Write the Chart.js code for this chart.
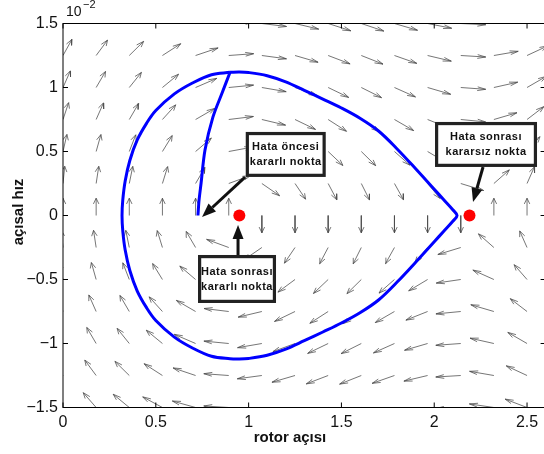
<!DOCTYPE html>
<html>
<head>
<meta charset="utf-8">
<script src="https://cdn.jsdelivr.net/npm/chart.js@4.4.0/dist/chart.umd.min.js"></script>
<style>
  html, body { margin: 0; padding: 0; background: #fff; overflow: hidden; }
  #wrap { width: 544px; height: 454px; overflow: hidden; }
</style>
</head>
<body>
<div id="wrap"><canvas id="phaseChart" width="560" height="454"></canvas></div>
<script>
// === DATA ===
const xTicks = [0, 0.5, 1, 1.5, 2, 2.5];
const yTicks = [-1.5, -1, -0.5, 0, 0.5, 1, 1.5];

// quiver grid: rotor angle (rad) and speed (x 1e-2)
const gridX = [0, 0.1786, 0.3571, 0.5357, 0.7143, 0.8929, 1.0714, 1.25, 1.4286, 1.6071, 1.7857, 1.9643, 2.1429, 2.3214, 2.5];
const gridY = [1.5, 1.25, 1, 0.75, 0.5, 0.25, 0, -0.25, -0.5, -0.75, -1, -1.25, -1.5];
// arrow direction (degrees, data space) for each grid row / column
const arrowAngles = [
  [65, 59, 50, 38, 22, 5, -10, -19, -25, -26, -23, -16, -4, 12, 29],
  [69, 63, 55, 43, 26, 6, -11, -23, -29, -30, -27, -19, -5, 14, 34],
  [73, 68, 61, 50, 32, 8, -14, -28, -35, -36, -33, -23, -6, 18, 40],
  [77, 73, 68, 58, 40, 10, -19, -35, -43, -44, -40, -30, -8, 23, 48],
  [81, 79, 75, 67, 51, 15, -27, -47, -54, -55, -52, -41, -12, 33, 59],
  [86, 84, 82, 78, 68, 28, -45, -65, -70, -71, -69, -60, -24, 52, 73],
  [90, 90, 90, 90, 90, 90, -90, -90, -90, -90, -90, -90, -90, 90, 90],
  [94, 96, 98, 102, 112, 152, -135, -115, -110, -109, -111, -120, -156, 128, 107],
  [99, 101, 105, 113, 129, 165, -153, -133, -126, -125, -128, -139, -168, 147, 121],
  [103, 107, 112, 122, 140, 170, -161, -145, -137, -136, -140, -150, -172, 157, 132],
  [107, 112, 119, 130, 148, 172, -166, -152, -145, -144, -147, -157, -174, 162, 140],
  [111, 117, 125, 137, 154, 174, -169, -157, -151, -150, -153, -161, -175, 166, 146],
  [115, 121, 130, 142, 158, 175, -170, -161, -155, -154, -157, -164, -176, 168, 151],
];

// closed trajectory (stability boundary), clockwise from the top
const sepDelta = [0.90, 0.95, 1.0, 1.1, 1.2, 1.3, 1.4, 1.5, 1.6, 1.7, 1.8, 1.9, 2.0, 2.05, 2.1, 2.123,
  2.1, 2.05, 2.0, 1.9, 1.8, 1.7, 1.6, 1.5, 1.4, 1.3, 1.2, 1.1, 1.0, 0.95, 0.9, 0.8, 0.7, 0.6, 0.5, 0.45,
  0.4, 0.36, 0.335, 0.322, 0.318, 0.322, 0.335, 0.36, 0.4, 0.45, 0.5, 0.6, 0.7, 0.8, 0.90];
const sepOmega = [1.119, 1.121, 1.117, 1.092, 1.044, 0.978, 0.910, 0.840, 0.760, 0.660, 0.520, 0.365, 0.205, 0.125, 0.045, 0,
  -0.045, -0.125, -0.205, -0.365, -0.520, -0.660, -0.760, -0.840, -0.910, -0.978, -1.044, -1.092, -1.117, -1.121, -1.119, -1.100, -1.037, -0.950, -0.820, -0.720,
  -0.590, -0.430, -0.270, -0.120, 0, 0.120, 0.270, 0.430, 0.590, 0.720, 0.820, 0.950, 1.037, 1.100, 1.119];

// fault-on trajectory
const faultDelta = [0.727, 0.733, 0.744, 0.765, 0.808, 0.857, 0.900];
const faultOmega = [0.00, 0.12, 0.254, 0.512, 0.77, 0.957, 1.119];

// post-fault equilibria
const eqDelta = [0.95, 2.19];
const eqOmega = [0, 0];

// callout boxes
const notes = [
  { lines: ["Hata öncesi", "kararlı nokta"], at: [1.20, 0.477], w: 80, h: 45, from: [0.981, 0.30], to: [0.749, -0.012] },
  { lines: ["Hata sonrası", "kararlı nokta"], at: [0.9375, -0.496], w: 78, h: 48, from: [0.943, -0.309], to: [0.943, -0.074] },
  { lines: ["Hata sonrası", "kararsız nokta"], at: [2.279, 0.555], w: 102, h: 45, from: [2.263, 0.379], to: [2.209, 0.105] },
];

// === QUIVER SEGMENTS (MATLAB style heads) ===
const ARROW_LEN = 0.135;
const HEAD = 0.33;
const quiverPts = [];
gridY.forEach((y, i) => {
  gridX.forEach((x, j) => {
    const a = arrowAngles[i][j] * Math.PI / 180;
    const u = ARROW_LEN * Math.cos(a);
    const v = ARROW_LEN * Math.sin(a);
    const tx = x + u, ty = y + v;
    quiverPts.push(
      { x: x, y: y }, { x: tx, y: ty }, { x: tx, y: null },
      { x: tx - HEAD * (u + HEAD * v), y: ty - HEAD * (v - HEAD * u) },
      { x: tx, y: ty },
      { x: tx - HEAD * (u - HEAD * v), y: ty - HEAD * (v + HEAD * u) },
      { x: tx, y: null }
    );
  });
});

const toPts = (xs, ys) => xs.map((v, i) => ({ x: v, y: ys[i] }));
const fmt = (v) => (v < 0 ? "\u2212" + Math.abs(v) : String(v));
const FONT = "'Liberation Sans', Arial, sans-serif";

// === FRAME, TICKS, TITLES, CALLOUTS ===
const decorPlugin = {
  id: "decor",
  afterDatasetsDraw(chart) {
    const { ctx, chartArea: a, scales: { x, y } } = chart;
    ctx.save();

    // callouts
    notes.forEach((n) => {
      const fx = x.getPixelForValue(n.from[0]), fy = y.getPixelForValue(n.from[1]);
      const tx = x.getPixelForValue(n.to[0]), ty = y.getPixelForValue(n.to[1]);
      const ang = Math.atan2(ty - fy, tx - fx);
      const hl = 14, hw = 5.5;
      const bx = tx - hl * Math.cos(ang), by = ty - hl * Math.sin(ang);
      ctx.strokeStyle = "#111";
      ctx.lineWidth = 3;
      ctx.beginPath();
      ctx.moveTo(fx, fy);
      ctx.lineTo(bx, by);
      ctx.stroke();
      ctx.fillStyle = "#111";
      ctx.beginPath();
      ctx.moveTo(tx, ty);
      ctx.lineTo(bx + hw * Math.sin(ang), by - hw * Math.cos(ang));
      ctx.lineTo(bx - hw * Math.sin(ang), by + hw * Math.cos(ang));
      ctx.closePath();
      ctx.fill();

      const cx = x.getPixelForValue(n.at[0]), cy = y.getPixelForValue(n.at[1]);
      ctx.fillStyle = "#fff";
      ctx.fillRect(cx - n.w / 2, cy - n.h / 2, n.w, n.h);
      ctx.lineWidth = 3.2;
      ctx.strokeStyle = "#222";
      ctx.strokeRect(cx - n.w / 2 + 1.6, cy - n.h / 2 + 1.6, n.w - 3.2, n.h - 3.2);
      ctx.fillStyle = "#111";
      ctx.font = "bold 11px " + FONT;
      ctx.letterSpacing = "0.5px";
      ctx.textAlign = "center";
      ctx.textBaseline = "middle";
      ctx.fillText(n.lines[0], cx, cy - 7.5);
      ctx.fillText(n.lines[1], cx, cy + 7.5);
      ctx.letterSpacing = "0px";
    });

    // axes box and inward ticks
    ctx.strokeStyle = "#000";
    ctx.lineWidth = 1;
    ctx.strokeRect(a.left, a.top, a.right - a.left, a.bottom - a.top);
    ctx.beginPath();
    xTicks.forEach((v) => {
      const px = x.getPixelForValue(v);
      ctx.moveTo(px, a.bottom); ctx.lineTo(px, a.bottom - 5);
      ctx.moveTo(px, a.top); ctx.lineTo(px, a.top + 5);
    });
    yTicks.forEach((v) => {
      const py = y.getPixelForValue(v);
      ctx.moveTo(a.left, py); ctx.lineTo(a.left + 5, py);
      ctx.moveTo(a.right, py); ctx.lineTo(a.right - 5, py);
    });
    ctx.stroke();

    // axis titles and exponent
    ctx.fillStyle = "#111";
    ctx.font = "bold 15px " + FONT;
    ctx.textAlign = "center";
    ctx.textBaseline = "middle";
    ctx.fillText("rotor açısı", 290, 438);
    ctx.translate(19, 212);
    ctx.rotate(-Math.PI / 2);
    ctx.fillText("açısal hız", 0, 0);
    ctx.setTransform(1, 0, 0, 1, 0, 0);
    ctx.textAlign = "left";
    ctx.font = "14px " + FONT;
    ctx.fillText("10", 66, 12.5);
    ctx.font = "11px " + FONT;
    ctx.fillText("\u22122", 83, 5);
    ctx.restore();
  },
};

// === CHART ===
const ctx = document.getElementById("phaseChart").getContext("2d");
const phaseChart = new Chart(ctx, {
  type: "scatter",
  data: {
    datasets: [
      {
        label: "equilibria",
        data: toPts(eqDelta, eqOmega),
        pointRadius: 6,
        pointBackgroundColor: "#ff0000",
        pointBorderWidth: 0,
        order: 0,
      },
      {
        label: "fault",
        data: toPts(faultDelta, faultOmega),
        showLine: true,
        borderColor: "#0000ff",
        borderWidth: 3,
        pointRadius: 0,
        tension: 0.3,
        order: 1,
      },
      {
        label: "boundary",
        data: toPts(sepDelta, sepOmega),
        showLine: true,
        borderColor: "#0000ff",
        borderWidth: 3,
        pointRadius: 0,
        tension: 0.35,
        order: 2,
      },
      {
        label: "field",
        data: quiverPts,
        showLine: true,
        spanGaps: false,
        borderColor: "rgba(75,75,75,0.85)",
        borderWidth: 0.9,
        pointRadius: 0,
        order: 3,
      },
    ],
  },
  options: {
    responsive: false,
    animation: false,
    layout: { padding: { left: 0, right: 14.4, top: 23.5, bottom: 0 } },
    plugins: { legend: { display: false }, tooltip: { enabled: false } },
    scales: {
      x: {
        type: "linear",
        min: 0,
        max: 2.6,
        grid: { display: false, drawTicks: false },
        border: { display: false },
        afterBuildTicks: (s) => { s.ticks = xTicks.map((v) => ({ value: v })); },
        afterFit: (s) => { s.height = 46.5; },
        ticks: { padding: 5, color: "#111", maxRotation: 0, autoSkip: false, font: { family: FONT, size: 16 }, callback: fmt },
      },
      y: {
        type: "linear",
        min: -1.5,
        max: 1.5,
        grid: { display: false, drawTicks: false },
        border: { display: false },
        afterBuildTicks: (s) => { s.ticks = yTicks.map((v) => ({ value: v })); },
        afterFit: (s) => { s.width = 63; },
        ticks: { padding: 5, color: "#111", autoSkip: false, font: { family: FONT, size: 16 }, callback: fmt },
      },
    },
  },
  plugins: [decorPlugin],
});
</script>
</body>
</html>
